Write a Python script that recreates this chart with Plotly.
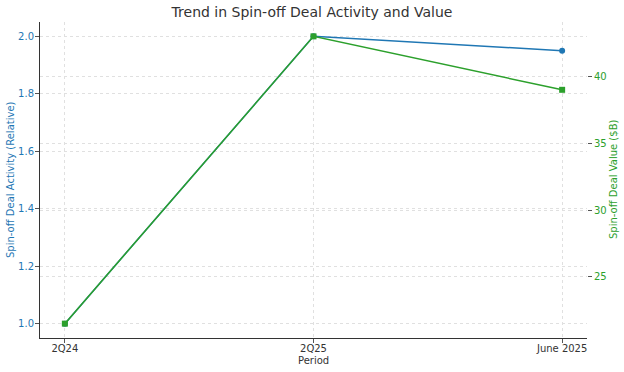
import plotly.graph_objects as go

periods = ["2Q24", "2Q25", "June 2025"]
activity = [1.0, 2.0, 1.95]
value_b = [21.5, 43.0, 39.0]

blue = "#1f77b4"
green = "#2ca02c"
font = "DejaVu Sans"

fig = go.Figure()
fig.add_trace(go.Scatter(x=[0, 1, 2], y=activity, mode="lines+markers",
                         line=dict(color=blue, width=1.5),
                         marker=dict(symbol="circle", size=6, color=blue),
                         name="Activity", yaxis="y"))
fig.add_trace(go.Scatter(x=[0, 1, 2], y=value_b, mode="lines+markers",
                         line=dict(color=green, width=1.5),
                         marker=dict(symbol="square", size=6, color=green),
                         name="Value", yaxis="y2"))

grid = "#e0e0e0"
fs = 10
fig.update_layout(
    width=624, height=372,
    margin=dict(l=40, r=37, t=22, b=34, autoexpand=False),
    paper_bgcolor="white", plot_bgcolor="white",
    showlegend=False,
    font=dict(family=font, size=fs, color="#333333"),
    title=dict(text="Trend in Spin-off Deal Activity and Value", x=0.5, xanchor="center",
               y=1 - 12 / 372, yanchor="middle", font=dict(size=14, color="#333333")),
    xaxis=dict(range=[-0.1, 2.1], tickmode="array", tickvals=[0, 1, 2], ticktext=periods,
               showgrid=True, gridcolor=grid, griddash="dot", gridwidth=1,
               showline=True, linecolor="#333333", linewidth=1,
               ticks="outside", ticklen=4, tickcolor="#555555",
               zeroline=False, automargin=False, ticklabelstandoff=-3,
               tickfont=dict(size=fs, color="#333333")),
    yaxis=dict(range=[0.95, 2.05], tickvals=[1.0, 1.2, 1.4, 1.6, 1.8, 2.0],
               tickformat=".1f", automargin=False, ticklabelstandoff=-1,
               showgrid=True, gridcolor=grid, griddash="dot", gridwidth=1,
               showline=True, linecolor="#333333", linewidth=1,
               ticks="outside", ticklen=4, tickcolor="#555555", zeroline=False,
               tickfont=dict(size=fs, color=blue)),
    yaxis2=dict(range=[20.425, 44.075], tickvals=[25, 30, 35, 40],
                overlaying="y", side="right", automargin=False,
                showgrid=True, gridcolor=grid, griddash="dot", gridwidth=1,
                showline=False, zeroline=False,
                ticks="outside", ticklen=4, tickcolor="#555555",
                tickfont=dict(size=fs, color=green)),
    annotations=[
        dict(text="Period", xref="paper", yref="paper", x=0.5, y=-(360 - 338) / 316,
             xanchor="center", yanchor="middle", showarrow=False,
             font=dict(size=fs, color="#333333")),
        dict(text="Spin-off Deal Activity (Relative)", xref="paper", yref="paper",
             x=(10 - 40) / 547, y=0.5, xanchor="center", yanchor="middle", showarrow=False,
             textangle=-90, font=dict(size=fs, color=blue)),
        dict(text="Spin-off Deal Value ($B)", xref="paper", yref="paper",
             x=(613 - 40) / 547, y=0.5, xanchor="center", yanchor="middle", showarrow=False,
             textangle=-90, font=dict(size=fs, color=green)),
    ],
)

fig.write_html("out.html", config={"displayModeBar": False},
               post_script="document.body.style.margin='0';document.body.style.overflow='hidden';")
